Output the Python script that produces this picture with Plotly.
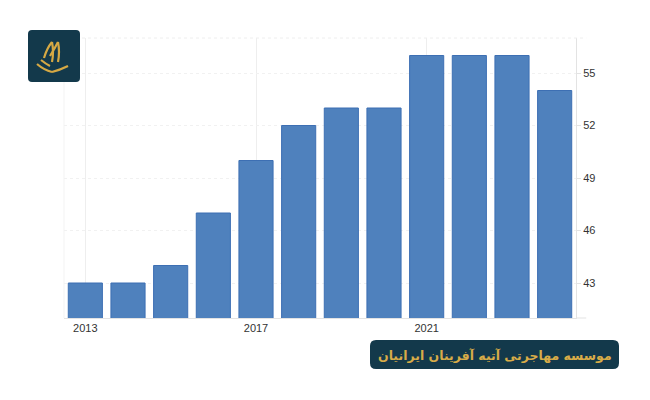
import plotly.graph_objects as go

years = [2013, 2014, 2015, 2016, 2017, 2018, 2019, 2020, 2021, 2022, 2023, 2024]
values = [43, 43, 44, 47, 50, 52, 53, 53, 56, 56, 56, 54]
y_ticks = [43, 46, 49, 52, 55]
x_ticks = [2013, 2017, 2021]
banner_text = "موسسه مهاجرتی آتیه آفرینان ایرانیان"

# page body offset of 8px is compensated in the margins
fig = go.Figure()
fig.add_trace(go.Bar(
    x=years, y=values, width=0.8,
    marker=dict(color="#4f81bd", line=dict(color="#3d6fb3", width=1)),
    hoverinfo="skip",
))

fig.update_layout(
    width=650, height=400,
    margin=dict(l=56, r=82, t=30, b=90),
    paper_bgcolor="white", plot_bgcolor="white",
    showlegend=False,
    font=dict(family="Liberation Sans, Arial, sans-serif", size=11, color="#333333"),
    bargap=0.2,
)
fig.update_xaxes(
    range=[2012.5, 2024.5], tickmode="array", tickvals=x_ticks,
    ticktext=[str(v) for v in x_ticks],
    showgrid=True, gridcolor="#eeeeee", gridwidth=1,
    showline=True, linecolor="#e3e3e3", linewidth=1,
    ticks="", zeroline=False, fixedrange=True,
)
fig.update_yaxes(
    range=[41, 57], side="right", tickmode="array", tickvals=y_ticks,
    showgrid=True, gridcolor="#f1f1f1", griddash="dot", gridwidth=1,
    showline=True, linecolor="#e3e3e3", linewidth=1, mirror=False,
    ticks="outside", ticklen=4, tickcolor="#e3e3e3",
    zeroline=False, fixedrange=True,
)

fig.add_shape(type="line", xref="paper", yref="paper", x0=0, x1=1.02, y0=1, y1=1,
              line=dict(color="#eeeeee", width=1, dash="dot"))
fig.add_shape(type="line", xref="paper", yref="paper", x0=1, x1=1.02, y0=0, y1=0,
              line=dict(color="#e3e3e3", width=1))
fig.add_shape(type="line", xref="paper", yref="paper", x0=0, x1=0, y0=0, y1=1,
              line=dict(color="#f3f3f3", width=1))

# screen pixel coords -> paper coords (plot area on screen: x 64..576, y 38..318)
def px(x):
    return (x - 64) / 512.0

def py(y):
    return (318 - y) / 280.0

def rounded_rect(x0, y0, x1, y1, r):
    return (f"M {px(x0 + r)},{py(y0)} L {px(x1 - r)},{py(y0)} "
            f"Q {px(x1)},{py(y0)} {px(x1)},{py(y0 + r)} L {px(x1)},{py(y1 - r)} "
            f"Q {px(x1)},{py(y1)} {px(x1 - r)},{py(y1)} L {px(x0 + r)},{py(y1)} "
            f"Q {px(x0)},{py(y1)} {px(x0)},{py(y1 - r)} L {px(x0)},{py(y0 + r)} "
            f"Q {px(x0)},{py(y0)} {px(x0 + r)},{py(y0)} Z")

fig.add_shape(type="path", xref="paper", yref="paper",
              path=rounded_rect(28, 30, 80, 82, 4),
              fillcolor="#13394b", line=dict(width=0), layer="above")
emblem = [
    ((37, 64), (44, 70), (52, 72)),
    ((52, 72), (60, 70), (68, 66)),
    ((44, 58), (47, 48), (52, 42)),
    ((52, 42), (54, 52), (52, 62)),
    ((50, 56), (55, 48), (58, 42)),
    ((58, 42), (60, 52), (58, 62)),
    ((41, 60), (46, 64), (50, 66)),
]
for (a, b, c) in emblem:
    fig.add_shape(type="path", xref="paper", yref="paper",
                  path=f"M {px(a[0])},{py(a[1])} Q {px(b[0])},{py(b[1])} {px(c[0])},{py(c[1])}",
                  line=dict(color="#d6a944", width=2.2), layer="above")

fig.add_shape(type="path", xref="paper", yref="paper",
              path=rounded_rect(370, 340, 619, 369, 6),
              fillcolor="#13394b", line=dict(width=0), layer="above")
fig.add_annotation(xref="paper", yref="paper", x=px(494.5), y=py(355),
                   text=f"<b>{banner_text}</b>", showarrow=False,
                   font=dict(family="DejaVu Sans, Noto Sans, sans-serif", size=12.5, color="#d8ac48"),
                   xanchor="center", yanchor="middle")

fig.write_html("out.html")
